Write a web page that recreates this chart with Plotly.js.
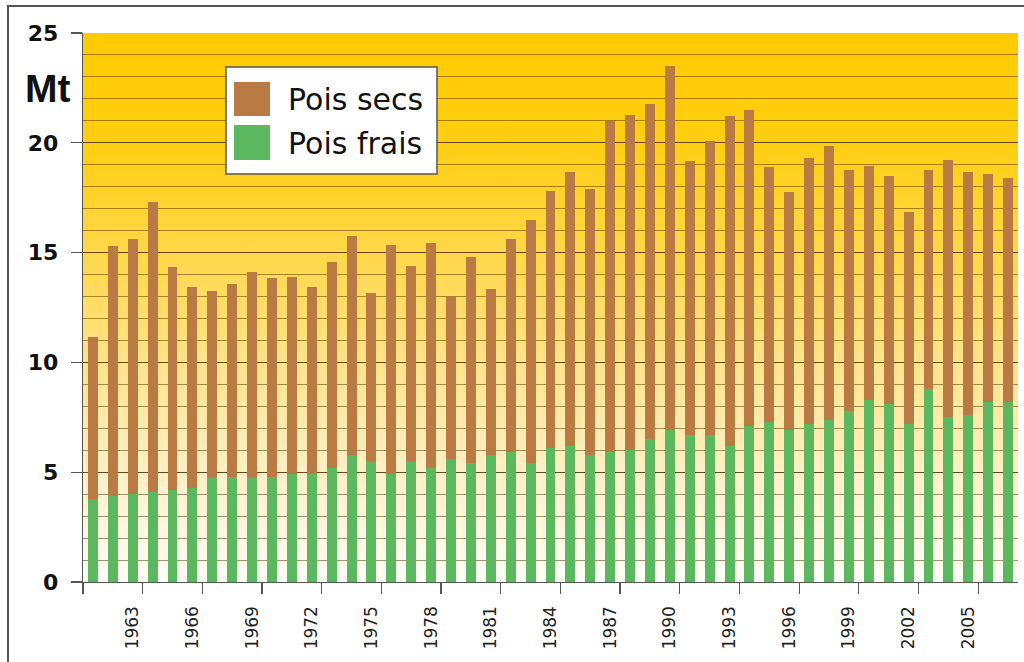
<!DOCTYPE html>
<html>
<head>
<meta charset="utf-8">
<script src="https://cdn.plot.ly/plotly-3.0.1.min.js"></script>
<style>html,body{margin:0;padding:0;background:#fff;}#chart{width:1024px;height:662px;}</style>
</head>
<body>
<div id="chart"></div>
<script>
// ---- Data (Mt) ----
const years = [1961,1962,1963,1964,1965,1966,1967,1968,1969,1970,1971,1972,1973,1974,1975,1976,1977,1978,1979,1980,
  1981,1982,1983,1984,1985,1986,1987,1988,1989,1990,1991,1992,1993,1994,1995,1996,1997,1998,1999,2000,
  2001,2002,2003,2004,2005,2006,2007];
const poisFrais = [3.8,3.9,4.0,4.1,4.2,4.3,4.8,4.8,4.8,4.8,4.9,4.9,5.2,5.8,5.5,4.9,5.5,5.2,5.6,5.4,
  5.8,5.9,5.4,6.1,6.2,5.8,5.9,6.0,6.5,6.9,6.7,6.7,6.2,7.1,7.3,6.9,7.2,7.4,7.8,8.3,
  8.1,7.2,8.8,7.5,7.6,8.2,8.2];
const poisSecs = [7.35,11.4,11.6,13.2,10.15,9.15,8.45,8.75,9.3,9.05,9.0,8.55,9.35,9.95,7.65,10.45,8.9,10.25,7.4,9.4,
  7.55,9.7,11.1,11.7,12.45,12.1,15.1,15.25,15.25,16.6,12.45,13.4,15.0,14.4,11.6,10.85,12.1,12.45,10.95,10.65,
  10.4,9.65,9.95,11.7,11.05,10.4,10.2];
const tickYears = [1963,1966,1969,1972,1975,1978,1981,1984,1987,1990,1993,1996,1999,2002,2005];
const seriesNames = ['Pois secs', 'Pois frais'];
const unitLabel = 'Mt';

// ---- Styling ----
const colSecs = '#BA7A44';
const colFrais = '#5CB85F';
const W = 1024, H = 662;
const M = {l: 83, r: 6, t: 33, b: 80};
const plotW = W - M.l - M.r, plotH = H - M.t - M.b;
const px2x = p => (p - M.l) / plotW;
const px2y = p => (H - M.b - p) / plotH;

const gradSvg = "<svg xmlns='http://www.w3.org/2000/svg' width='100' height='100' preserveAspectRatio='none'>" +
  "<defs><linearGradient id='g' x1='0' y1='0' x2='0' y2='1'>" +
  "<stop offset='0' stop-color='#FFCB00'/>" +
  "<stop offset='0.2' stop-color='#FFCE12'/>" +
  "<stop offset='0.4' stop-color='#FFD748'/>" +
  "<stop offset='0.6' stop-color='#FFE38A'/>" +
  "<stop offset='0.8' stop-color='#FFF0C6'/>" +
  "<stop offset='1' stop-color='#FFFEF8'/>" +
  "</linearGradient></defs><rect width='100' height='100' fill='url(#g)'/></svg>";
const gradSrc = 'data:image/svg+xml;base64,' + btoa(gradSvg);

const traces = [
  {type: 'bar', name: seriesNames[1], x: years, y: poisFrais, width: 0.5,
   marker: {color: colFrais, line: {width: 0}}, showlegend: false, hoverinfo: 'x+y+name'},
  {type: 'bar', name: seriesNames[0], x: years, y: poisSecs, width: 0.5,
   marker: {color: colSecs, line: {width: 0}}, showlegend: false, hoverinfo: 'x+y+name'}
];

const tickvals = [years[0] - 0.5].concat(tickYears.map(y => y + 0.5));
const ticktext = [''].concat(tickYears.map(String));

const layout = {
  width: W, height: H,
  margin: M,
  paper_bgcolor: '#ffffff',
  plot_bgcolor: 'rgba(0,0,0,0)',
  barmode: 'stack',
  showlegend: false,
  font: {family: 'DejaVu Sans, Verdana, sans-serif', color: '#222'},
  xaxis: {
    range: [years[0] - 0.5, years[years.length - 1] + 0.5],
    tickmode: 'array', tickvals: tickvals, ticktext: ticktext,
    tickangle: -90, ticklabelshift: -10, ticklabelstandoff: 5,
    ticks: 'outside', ticklen: 11, tickwidth: 1.3, tickcolor: '#555',
    tickfont: {size: 17, color: '#222', family: 'DejaVu Sans, sans-serif'},
    showgrid: false, zeroline: false,
    showline: true, linecolor: '#555', linewidth: 1.3,
    fixedrange: true
  },
  yaxis: {
    range: [0, 25], tickmode: 'linear', tick0: 0, dtick: 5,
    ticks: 'outside', ticklen: 11, tickwidth: 1.3, tickcolor: '#555',
    ticklabelstandoff: 8,
    tickfont: {size: 22, color: '#111', family: 'DejaVu Sans, sans-serif', weight: 'bold'},
    showgrid: true, gridcolor: 'rgba(70,45,0,0.85)', gridwidth: 1.3,
    minor: {dtick: 1, showgrid: true, gridcolor: 'rgba(90,60,0,0.55)', gridwidth: 1},
    zeroline: false,
    showline: true, linecolor: '#555', linewidth: 1.3,
    fixedrange: true
  },
  images: [{
    source: gradSrc, xref: 'x domain', yref: 'y domain', x: 0, y: 1,
    sizex: 1, sizey: 1, xanchor: 'left', yanchor: 'top', sizing: 'stretch', layer: 'below'
  }],
  shapes: [
    // outer frame
    {type: 'rect', xref: 'paper', yref: 'paper', x0: px2x(8), x1: px2x(1040), y0: px2y(680), y1: px2y(6),
     line: {color: '#555', width: 2}, fillcolor: 'rgba(0,0,0,0)', layer: 'above'},
    // legend box
    {type: 'rect', xref: 'paper', yref: 'paper', x0: px2x(226), x1: px2x(437), y0: px2y(174), y1: px2y(67),
     line: {color: '#555', width: 1.5}, fillcolor: '#ffffff', layer: 'above'},
    {type: 'rect', xref: 'paper', yref: 'paper', x0: px2x(234), x1: px2x(270), y0: px2y(116), y1: px2y(82),
     line: {width: 0}, fillcolor: colSecs, layer: 'above'},
    {type: 'rect', xref: 'paper', yref: 'paper', x0: px2x(234), x1: px2x(270), y0: px2y(160), y1: px2y(125),
     line: {width: 0}, fillcolor: colFrais, layer: 'above'}
  ],
  annotations: [
    {text: unitLabel, xref: 'paper', yref: 'paper', x: px2x(47), y: px2y(88), xanchor: 'center', yanchor: 'middle',
     showarrow: false, font: {size: 39, color: '#111', family: 'Liberation Sans, Arial, sans-serif', weight: 'bold'}},
    {text: seriesNames[0], xref: 'paper', yref: 'paper', x: px2x(286), y: px2y(100), xanchor: 'left', yanchor: 'middle',
     showarrow: false, font: {size: 30, color: '#111', family: 'DejaVu Sans, sans-serif'}},
    {text: seriesNames[1], xref: 'paper', yref: 'paper', x: px2x(286), y: px2y(143), xanchor: 'left', yanchor: 'middle',
     showarrow: false, font: {size: 30, color: '#111', family: 'DejaVu Sans, sans-serif'}}
  ]
};

Plotly.newPlot('chart', traces, layout, {displayModeBar: false, staticPlot: true});
</script>
</body>
</html>
